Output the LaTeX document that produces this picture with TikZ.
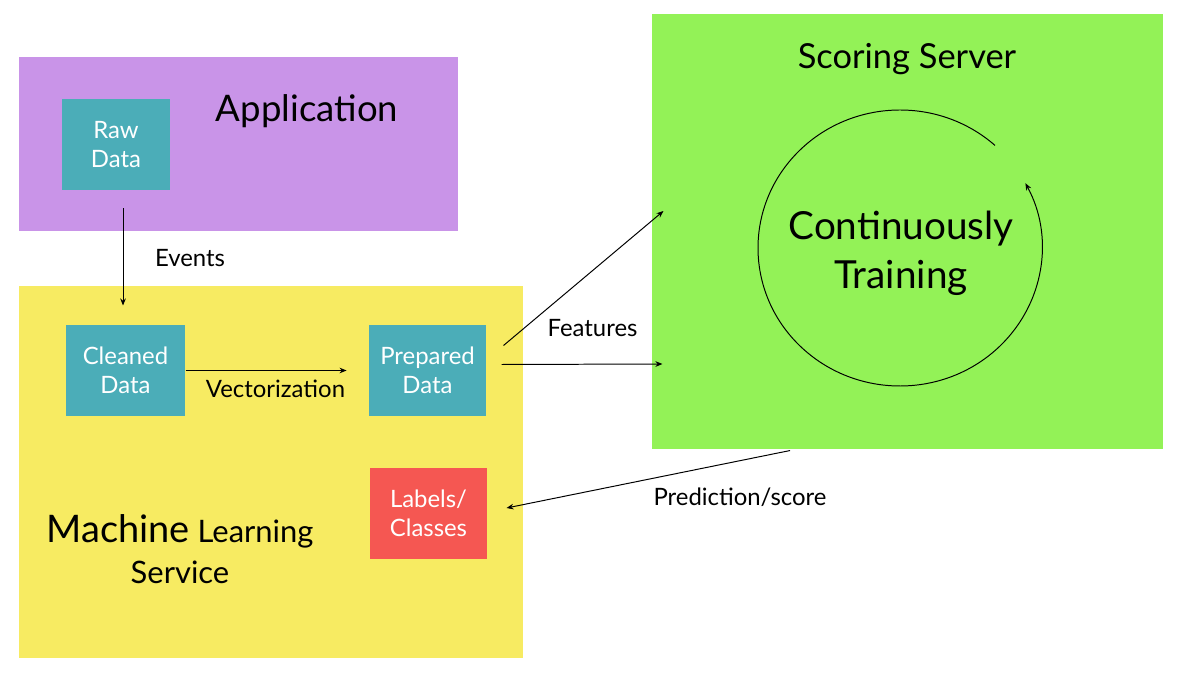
\documentclass[tikz,border=0pt]{standalone}
\usepackage{fontspec}
\setmainfont{Lato}
\usetikzlibrary{arrows.meta}
\definecolor{appviolet}{HTML}{C994E8}
\definecolor{mlyellow}{HTML}{F7EB62}
\definecolor{scoregreen}{HTML}{93F257}
\definecolor{datateal}{HTML}{4BADB8}
\definecolor{labelred}{HTML}{F55752}

\begin{document}
\begin{tikzpicture}[
	x=0.025cm, y=-0.025cm,
	>={Stealth[length=5pt,width=4pt]},
	line width=0.7pt,
	align=center,
	region/.style={
		fill=#1,
		inner sep=0pt
	},
	datablock/.style={
		fill=#1,
		text=white,
		inner sep=0pt,
		minimum height=2.275cm,
		font=\fontsize{17}{21}\selectfont
	},
	datablock/.default=datateal,
	flowlabel/.style={anchor=base, inner sep=0pt, font=\fontsize{17}{20}\selectfont}
	]
    \useasboundingbox (0,0) rectangle (1177,674);

    % regions
    \node[region=appviolet, minimum width=10.975cm, minimum height=4.35cm] at (238.5,144) (app) {};
    \node[region=mlyellow, minimum width=12.6cm, minimum height=9.3cm] at (271,472) (mls) {};
    \node[region=scoregreen, minimum width=12.775cm, minimum height=10.875cm] at (907.5,231.5) (scoring) {};

    % titles
    \node[anchor=base, inner sep=0pt, font=\fontsize{26}{32}\selectfont] at (307,122) (apptitle) {Application};
    \node[anchor=base, inner sep=0pt, font=\fontsize{24.5}{29}\selectfont] at (907,69) (scoringtitle) {Scoring Server};
    \node[anchor=base, inner sep=0pt, font=\fontsize{22}{29}\selectfont] at (180,583) (mlstitle)
      {{\fontsize{27}{29}\selectfont Machine} Learning\\Service};

    % data blocks
    \node[datablock, minimum width=2.7cm] at (116,144.5) (raw) {Raw\\Data};
    \node[datablock, minimum width=2.975cm] at (125.5,370.5) (cleaned) {Cleaned\\Data};
    \node[datablock, minimum width=2.925cm] at (427.5,370.5) (prepared) {Prepared\\Data};
    \node[datablock=labelred, minimum width=2.925cm] at (428.5,513.5) (labels) {Labels/\\Classes};

    % flows
    \draw[->, shorten <=12.8pt, shorten >=13.5pt] ([xshift=5pt]raw.south) -- ([xshift=5pt]raw.south |- cleaned.north);
    \node[flowlabel] at (190,267) (events) {Events};
    \draw[->, shorten >=15.6pt] (cleaned.east) -- (prepared.west);
    \node[flowlabel] at (275.5,398) (vector) {Vectorization};
    \draw[->] ([shift={(17,-25)}]prepared.east) -- ([shift={(12,-20.5)}]scoring.west);
    \draw[->] ([shift={(15,-6)}]prepared.east) -- ([shift={(11,132.5)}]scoring.west);
    \node[flowlabel] at (592.5,337) (features) {Features};
    \draw[->] ([shift={(-117.5,1)}]scoring.south) -- ([shift={(19,-5.5)}]labels.east);
    \node[flowlabel] at (740,505) (prediction) {Prediction/score};

    % training loop
    \node[anchor=base, inner sep=0pt, font=\fontsize{27.5}{35.4}\selectfont] at (901,289) (training) {Continuously\\Training};
    \draw[->] ([shift={(-48:142 and 138)}]900,248) arc[start angle=-48, end angle=-388, x radius=142, y radius=138];

\end{tikzpicture}
\end{document}
